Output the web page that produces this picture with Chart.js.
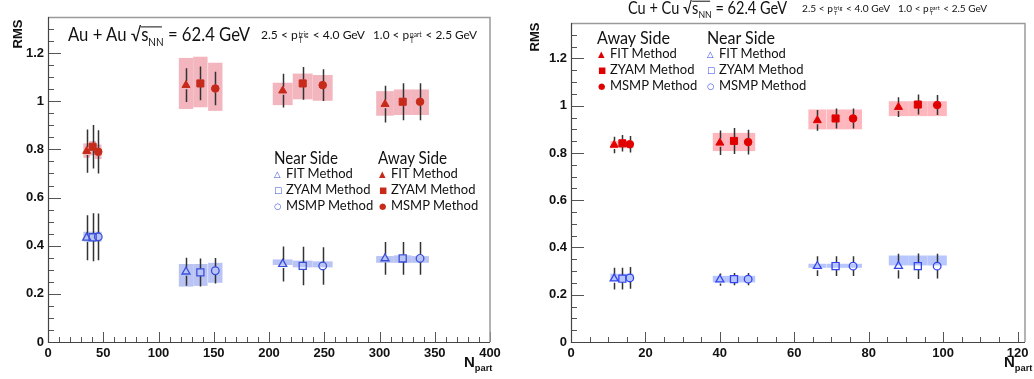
<!DOCTYPE html>
<html>
<head>
<meta charset="utf-8">
<script src="https://cdn.jsdelivr.net/npm/chart.js@4.4.1/dist/chart.umd.min.js"></script>
<style>
html, body { margin: 0; padding: 0; background: #fff; }
#wrap { position: relative; width: 1034px; height: 379px; overflow: hidden; }
canvas { position: absolute; top: 0; }
.t { position: absolute; white-space: nowrap; line-height: 1; transform: translateY(-50%); transform-origin: left center;
     font-family: Lato, "Open Sans", sans-serif; color: #111; }
.ax { font-family: "Liberation Sans", Arial, sans-serif; font-weight: bold; color: #111; }
.stk { display: inline-flex; flex-direction: column; font-size: 0.55em; line-height: 0.95; vertical-align: 0.35em; margin: 0 1px; }
.rad { position: relative; }
.rad::before { content: ''; position: absolute; left: 0; right: 0.1em; top: 0.22em; border-top: 1px solid #111; }
.lg { font-size: 13px; }
.lg i { font-style: normal; display: inline-block; width: 12px; font-size: 8.5px; font-family: "DejaVu Sans", sans-serif; vertical-align: 1px; }
.hd { font-size: 17px; }
</style>
</head>
<body>
<div id="wrap">
  <canvas id="au" width="515" height="379" style="left:0"></canvas>
  <canvas id="cu" width="519" height="379" style="left:515px"></canvas>

  <!-- Au + Au panel text -->
  <div class="t" data-w="182" style="left:68px;top:36px;font-size:19px">Au + Au √<span class="rad">s<sub style="font-size:0.6em">NN</sub></span> = 62.4 GeV</div>
  <div class="t" data-w="104" style="left:261px;top:36px;font-size:12px">2.5 &lt; p<span class="stk"><span>trig</span><span>T</span></span> &lt; 4.0 GeV</div>
  <div class="t" data-w="104" style="left:373px;top:36px;font-size:12px">1.0 &lt; p<span class="stk"><span>part</span><span>T</span></span> &lt; 2.5 GeV</div>
  <div class="t ax" style="left:3px;top:34px;font-size:13px;transform:translateY(-50%) rotate(-90deg);transform-origin:center">RMS</div>
  <div class="t ax" style="left:464px;top:364px;font-size:15px">N<sub style="font-size:0.62em">part</sub></div>

  <div class="t hd" data-w="64" style="left:274px;top:157px">Near Side</div>
  <div class="t lg" style="left:274px;top:173px;color:#3a4fd8"><i>△</i><span style="color:#111">FIT Method</span></div>
  <div class="t lg" style="left:274px;top:189px;color:#3a4fd8"><i>□</i><span style="color:#111">ZYAM Method</span></div>
  <div class="t lg" style="left:274px;top:205px;color:#3a4fd8"><i>○</i><span style="color:#111">MSMP Method</span></div>
  <div class="t hd" data-w="69" style="left:378px;top:157px">Away Side</div>
  <div class="t lg" style="left:379px;top:173px;color:#c62a1a"><i>▲</i><span style="color:#111">FIT Method</span></div>
  <div class="t lg" style="left:379px;top:189px;color:#c62a1a"><i>■</i><span style="color:#111">ZYAM Method</span></div>
  <div class="t lg" style="left:379px;top:205px;color:#c62a1a"><i>●</i><span style="color:#111">MSMP Method</span></div>

  <!-- Cu + Cu panel text -->
  <div class="t" data-w="159" style="left:628px;top:9px;font-size:17px">Cu + Cu √<span class="rad">s<sub style="font-size:0.6em">NN</sub></span> = 62.4 GeV</div>
  <div class="t" data-w="88" style="left:802px;top:10px;font-size:10px">2.5 &lt; p<span class="stk"><span>trig</span><span>T</span></span> &lt; 4.0 GeV</div>
  <div class="t" data-w="89" style="left:898px;top:10px;font-size:10px">1.0 &lt; p<span class="stk"><span>part</span><span>T</span></span> &lt; 2.5 GeV</div>
  <div class="t ax" style="left:520px;top:37px;font-size:13px;transform:translateY(-50%) rotate(-90deg);transform-origin:center">RMS</div>
  <div class="t ax" style="left:1004px;top:364px;font-size:15px">N<sub style="font-size:0.62em">part</sub></div>

  <div class="t hd" data-w="73" style="left:597px;top:37px">Away Side</div>
  <div class="t lg" style="left:598px;top:53px;color:#e00000"><i>▲</i><span style="color:#111">FIT Method</span></div>
  <div class="t lg" style="left:598px;top:69px;color:#e00000"><i>■</i><span style="color:#111">ZYAM Method</span></div>
  <div class="t lg" style="left:598px;top:85px;color:#e00000"><i>●</i><span style="color:#111">MSMP Method</span></div>
  <div class="t hd" data-w="68" style="left:707px;top:37px">Near Side</div>
  <div class="t lg" style="left:707px;top:53px;color:#3344ee"><i>△</i><span style="color:#111">FIT Method</span></div>
  <div class="t lg" style="left:707px;top:69px;color:#3344ee"><i>□</i><span style="color:#111">ZYAM Method</span></div>
  <div class="t lg" style="left:707px;top:85px;color:#3344ee"><i>○</i><span style="color:#111">MSMP Method</span></div>
</div>

<script>
// squeeze the header texts to the widths they take in the original figure
document.querySelectorAll('[data-w]').forEach(el => {
  const w = el.getBoundingClientRect().width;
  el.style.transform = 'translateY(-50%) scaleX(' + (el.dataset.w / w).toFixed(3) + ')';
});

// ---- Au + Au (left) ----
const auFitX  = [35, 124.9, 212.4, 305];
const auZyamX = [40.4, 137.9, 230.5, 321];
const auMsmpX = [45.5, 151.4, 248.6, 336.7];
const auBoxHalf = [3, 6.5, 9, 8];

const auAwayFit  = [0.793, 1.067, 1.044, 0.988];
const auAwayZyam = [0.811, 1.074, 1.074, 0.998];
const auAwayMsmp = [0.790, 1.053, 1.067, 0.998];
const auAwayFitErr  = [0.09, 0.07, 0.07, 0.076];
const auAwayZyamErr = [0.09, 0.07, 0.068, 0.077];
const auAwayMsmpErr = [0.09, 0.07, 0.066, 0.077];
const auAwayFitSys  = [[0.765, 0.825], [0.968, 1.18], [0.984, 1.077], [0.94, 1.042]];
const auAwayZyamSys = [[0.775, 0.835], [0.975, 1.185], [1.008, 1.115], [0.943, 1.049]];
const auAwayMsmpSys = [[0.76, 0.82], [0.96, 1.16], [1.002, 1.109], [0.943, 1.049]];

const auNearFit  = [0.433, 0.292, 0.324, 0.347];
const auNearZyam = [0.435, 0.289, 0.316, 0.347];
const auNearMsmp = [0.437, 0.296, 0.316, 0.347];
const auNearFitErr  = [0.093, 0.058, 0.073, 0.068];
const auNearZyamErr = [0.1, 0.058, 0.08, 0.068];
const auNearMsmpErr = [0.097, 0.053, 0.078, 0.068];
const auNearFitSys  = [[0.417, 0.458], [0.23, 0.324], [0.32, 0.343], [0.329, 0.357]];
const auNearZyamSys = [[0.417, 0.458], [0.233, 0.324], [0.31, 0.338], [0.329, 0.36]];
const auNearMsmpSys = [[0.417, 0.458], [0.246, 0.329], [0.31, 0.335], [0.329, 0.357]];

// ---- Cu + Cu (right) ----
const cuFitX  = [11.6, 40, 66.2, 88];
const cuZyamX = [13.8, 43.8, 71.1, 93.2];
const cuMsmpX = [15.8, 47.6, 75.8, 98.4];
const cuBoxHalf = [1, 1.9, 2.4, 2.6];

const cuAwayFit  = [0.834, 0.843, 0.938, 0.994];
const cuAwayZyam = [0.841, 0.851, 0.946, 1.005];
const cuAwayMsmp = [0.837, 0.846, 0.946, 1.003];
const cuAwayFitErr  = [0.035, 0.052, 0.044, 0.042];
const cuAwayZyamErr = [0.035, 0.055, 0.042, 0.042];
const cuAwayMsmpErr = [0.035, 0.052, 0.042, 0.042];
const cuAwaySys = [[0.82, 0.85], [0.808, 0.885], [0.9, 0.984], [0.956, 1.019]];

const cuNearFit  = [0.268, 0.264, 0.321, 0.321];
const cuNearZyam = [0.268, 0.266, 0.321, 0.321];
const cuNearMsmp = [0.271, 0.266, 0.321, 0.321];
const cuNearFitErr  = [0.046, 0.026, 0.042, 0.052];
const cuNearZyamErr = [0.046, 0.026, 0.042, 0.054];
const cuNearMsmpErr = [0.046, 0.026, 0.042, 0.052];
const cuNearSys = [[0.258, 0.289], [0.252, 0.28], [0.314, 0.331], [0.324, 0.366]];

const MARK = {
  fit:  { pointStyle: 'triangle', radius: 4.6, gap: 4 },
  zyam: { pointStyle: 'rect', radius: 5, gap: 3.6 },
  msmp: { pointStyle: 'circle', radius: 3.8, gap: 3.8 }
};

function series(xs, ys, errs, sys, half, kind, filled, color, boxColor) {
  const m = MARK[kind];
  return {
    data: xs.map((x, i) => ({ x: x, y: ys[i] })),
    errs: errs, sys: sys, boxHalf: half, boxColor: boxColor, gap: m.gap,
    pointStyle: m.pointStyle,
    pointRadius: m.radius,
    pointBackgroundColor: filled ? color : 'rgba(0,0,0,0)',
    pointBorderColor: color,
    pointBorderWidth: filled ? 1 : 1.3,
    showLine: false
  };
}

// sys boxes + stat bars under the markers, ROOT style inward ticks and frame on top
const rootFrame = {
  id: 'rootFrame',
  beforeDatasetsDraw(chart) {
    const { ctx, scales: { x, y } } = chart;
    ctx.save();
    chart.data.datasets.forEach(ds => {
      ctx.fillStyle = ds.boxColor;
      ds.data.forEach((p, i) => {
        const x1 = x.getPixelForValue(p.x - ds.boxHalf[i]);
        const x2 = x.getPixelForValue(p.x + ds.boxHalf[i]);
        const y1 = y.getPixelForValue(ds.sys[i][1]);
        const y2 = y.getPixelForValue(ds.sys[i][0]);
        ctx.fillRect(x1, y1, x2 - x1, y2 - y1);
      });
    });
    ctx.strokeStyle = '#333';
    ctx.lineWidth = 1.5;
    chart.data.datasets.forEach(ds => {
      ds.data.forEach((p, i) => {
        const px = Math.round(x.getPixelForValue(p.x)) + 0.5;
        const py = y.getPixelForValue(p.y);
        const top = y.getPixelForValue(p.y + ds.errs[i]);
        const bot = y.getPixelForValue(p.y - ds.errs[i]);
        ctx.beginPath();
        ctx.moveTo(px, top); ctx.lineTo(px, py - ds.gap);
        ctx.moveTo(px, py + ds.gap); ctx.lineTo(px, bot);
        ctx.stroke();
      });
    });
    ctx.restore();
  },
  afterDraw(chart, args, opts) {
    const { ctx, chartArea: a, scales: { x, y } } = chart;
    ctx.save();
    ctx.lineWidth = 1;
    ctx.strokeStyle = '#555';
    ctx.beginPath();
    for (let v = y.min; v <= y.max + 1e-9; v += opts.yMinor) {
      const major = Math.abs(v / opts.yMajor - Math.round(v / opts.yMajor)) < 1e-6;
      const py = Math.round(y.getPixelForValue(v)) + 0.5;
      ctx.moveTo(a.left, py); ctx.lineTo(a.left + (major ? 13 : 6), py);
    }
    for (let v = x.min; v <= x.max + 1e-9; v += opts.xMinor) {
      const major = Math.abs(v / opts.xMajor - Math.round(v / opts.xMajor)) < 1e-6;
      const px = Math.round(x.getPixelForValue(v)) + 0.5;
      ctx.moveTo(px, a.bottom); ctx.lineTo(px, a.bottom - (major ? 10 : 5));
    }
    ctx.stroke();
    // frame: dark axes, grey top/right
    ctx.strokeStyle = '#9a9a9a';
    ctx.lineWidth = 1.5;
    ctx.beginPath();
    ctx.moveTo(a.left, a.top + 0.5); ctx.lineTo(a.right, a.top + 0.5); ctx.lineTo(a.right, a.bottom);
    ctx.stroke();
    ctx.strokeStyle = '#444';
    ctx.lineWidth = 1.2;
    ctx.beginPath();
    ctx.moveTo(a.left + 0.5, a.top); ctx.lineTo(a.left + 0.5, a.bottom + 0.5); ctx.lineTo(a.right, a.bottom + 0.5);
    ctx.stroke();
    ctx.restore();
  }
};

const tickFont = { family: '"Liberation Sans", Arial, sans-serif', size: 13, weight: 'bold' };

function makePanel(id, datasets, xMax, xStep, xMinor, yAxisWidth, padTop, padRight) {
  return new Chart(document.getElementById(id), {
    type: 'scatter',
    data: { datasets: datasets },
    options: {
      responsive: false,
      animation: false,
      layout: { padding: { top: padTop, right: padRight, left: 0, bottom: 0 } },
      plugins: {
        legend: { display: false },
        tooltip: { enabled: false },
        rootFrame: { xMajor: xStep, xMinor: xMinor, yMajor: 0.2, yMinor: 0.05 }
      },
      scales: {
        x: {
          type: 'linear', min: 0, max: xMax,
          grid: { display: false, drawTicks: false },
          border: { display: false },
          ticks: { stepSize: xStep, includeBounds: false, font: tickFont, color: '#111', padding: 4, maxRotation: 0 },
          afterFit: s => { s.height = 37; }
        },
        y: {
          min: 0, max: 1.35,
          grid: { display: false, drawTicks: false },
          border: { display: false },
          ticks: { stepSize: 0.2, includeBounds: false, font: tickFont, color: '#111', padding: 4,
                   callback: v => String(Number(v.toFixed(1))) },
          afterFit: s => { s.width = yAxisWidth; }
        }
      }
    },
    plugins: [rootFrame]
  });
}

const auRed = '#c62a1a', auBlue = '#3a4fd8', auPink = '#f3b6be', auLight = '#bac4f4';
makePanel('au', [
  series(auFitX, auAwayFit, auAwayFitErr, auAwayFitSys, auBoxHalf, 'fit', true, auRed, auPink),
  series(auZyamX, auAwayZyam, auAwayZyamErr, auAwayZyamSys, auBoxHalf, 'zyam', true, auRed, auPink),
  series(auMsmpX, auAwayMsmp, auAwayMsmpErr, auAwayMsmpSys, auBoxHalf, 'msmp', true, auRed, auPink),
  series(auFitX, auNearFit, auNearFitErr, auNearFitSys, auBoxHalf, 'fit', false, auBlue, auLight),
  series(auZyamX, auNearZyam, auNearZyamErr, auNearZyamSys, auBoxHalf, 'zyam', false, auBlue, auLight),
  series(auMsmpX, auNearMsmp, auNearMsmpErr, auNearMsmpSys, auBoxHalf, 'msmp', false, auBlue, auLight)
], 400, 50, 10, 48, 17, 25);

const cuRed = '#e00000', cuBlue = '#3344ee', cuPink = '#ffb6bd', cuLight = '#b8c6ff';
makePanel('cu', [
  series(cuFitX, cuAwayFit, cuAwayFitErr, cuAwaySys, cuBoxHalf, 'fit', true, cuRed, cuPink),
  series(cuZyamX, cuAwayZyam, cuAwayZyamErr, cuAwaySys, cuBoxHalf, 'zyam', true, cuRed, cuPink),
  series(cuMsmpX, cuAwayMsmp, cuAwayMsmpErr, cuAwaySys, cuBoxHalf, 'msmp', true, cuRed, cuPink),
  series(cuFitX, cuNearFit, cuNearFitErr, cuNearSys, cuBoxHalf, 'fit', false, cuBlue, cuLight),
  series(cuZyamX, cuNearZyam, cuNearZyamErr, cuNearSys, cuBoxHalf, 'zyam', false, cuBlue, cuLight),
  series(cuMsmpX, cuNearMsmp, cuNearMsmpErr, cuNearSys, cuBoxHalf, 'msmp', false, cuBlue, cuLight)
], 122, 20, 5, 56, 23, 9);
</script>
</body>
</html>
